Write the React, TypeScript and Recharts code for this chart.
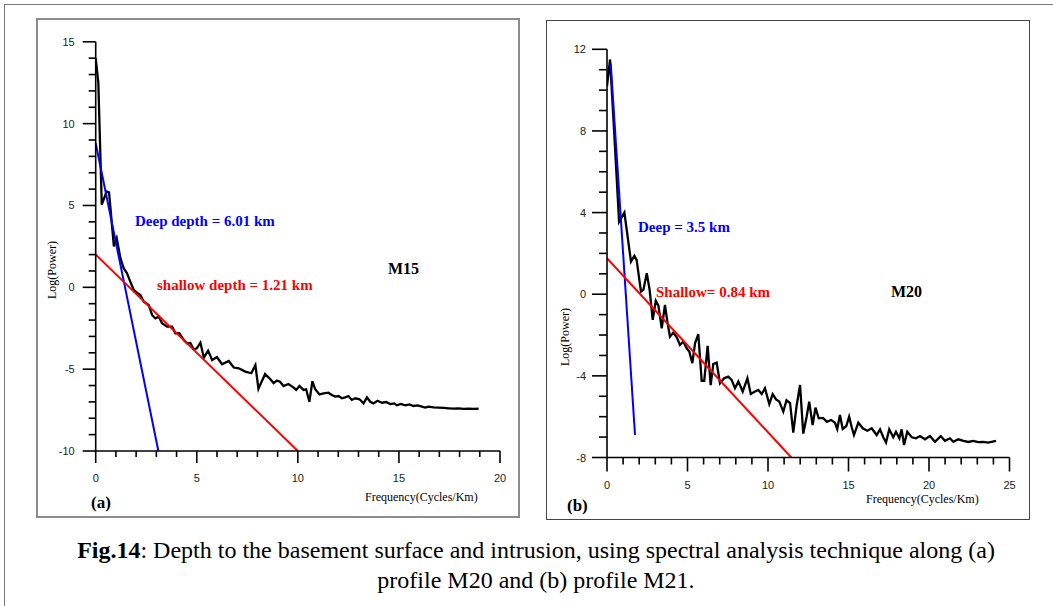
import React from 'react'
import { LineChart, Line, XAxis, YAxis } from 'recharts'

// panel (a) – profile spectrum
const leftFreq = [
  0, 0.13, 0.3, 0.54, 0.66, 0.9, 1.04, 1.22, 1.39, 1.55, 1.71, 1.88, 2.04, 2.21, 2.38, 2.62, 2.79, 2.95,
  3.12, 3.28, 3.53, 3.78, 3.94, 4.14, 4.36, 4.52, 4.68, 4.85, 5.0, 5.18, 5.35, 5.56, 5.76, 6.0, 6.25,
  6.58, 6.83, 7.08, 7.4, 7.7, 7.9, 8.05, 8.38, 8.63, 8.8, 8.96, 9.12, 9.29, 9.53, 9.78, 9.92, 10.08,
  10.28, 10.41, 10.57, 10.72, 10.86, 11.07, 11.27, 11.51, 11.68, 11.85, 12.01, 12.18, 12.34, 12.5,
  12.67, 12.84, 13.05, 13.25, 13.42, 13.58, 13.74, 13.94, 14.16, 14.37, 14.57, 14.77, 14.9, 15.1,
  15.31, 15.52, 15.72, 15.92, 16.14, 16.3, 16.47, 16.71, 16.96, 17.21, 17.46, 17.7, 17.95, 18.2,
  18.45, 18.69, 18.94,
]
const leftPower = [
  14.0, 12.5, 5.05, 5.85, 5.8, 2.5, 3.0, 1.8, 1.15, 0.85, 0.35, -0.15, -0.33, -0.47, -0.88, -1.08, -1.69, -1.9,
  -1.79, -2.2, -2.4, -2.4, -2.81, -2.8, -3.22, -3.42, -3.4, -3.8, -3.73, -3.38, -4.3, -3.87, -4.44, -4.26, -4.7,
  -4.5, -4.9, -4.95, -5.15, -5.25, -4.75, -6.2, -5.3, -5.6, -5.85, -5.7, -5.77, -6.03, -5.91, -6.11, -6.27, -6.03,
  -6.27, -6.23, -6.99, -5.74, -6.23, -6.54, -6.48, -6.44, -6.58, -6.68, -6.64, -6.78, -6.72, -6.64,
  -6.88, -6.78, -6.84, -7.09, -6.72, -6.99, -7.09, -6.93, -7.05, -7.01, -7.13, -7.09, -7.21, -7.13,
  -7.21, -7.15, -7.25, -7.21, -7.29, -7.35, -7.29, -7.33, -7.35, -7.37, -7.39, -7.41, -7.39, -7.43,
  -7.41, -7.43, -7.42,
]
const leftDeepFit = [
  { f: 0, p: 8.8 },
  { f: 3.1, p: -10 },
]
const leftShallowFit = [
  { f: 0, p: 2.0 },
  { f: 10.0, p: -10 },
]

// panel (b)
const rightFreq = [
  0, 0.19, 0.47, 0.75, 1.08, 1.49, 1.7, 1.84, 2.11, 2.26, 2.47, 2.65, 2.84, 3.03, 3.19, 3.4, 3.6, 3.75,
  3.91, 4.12, 4.33, 4.53, 4.74, 4.95, 5.11, 5.3, 5.47, 5.67, 5.88, 6.04, 6.25, 6.44, 6.6, 6.81, 7.02,
  7.27, 7.53, 7.74, 7.95, 8.16, 8.43, 8.72, 8.93, 9.19, 9.4, 9.61, 9.81, 10.08, 10.29, 10.5, 10.7,
  10.95, 11.15, 11.37, 11.57, 11.78, 11.99, 12.19, 12.4, 12.56, 12.77, 12.95, 13.15, 13.41, 13.66,
  13.92, 14.16, 14.3, 14.47, 14.64, 14.86, 15.04, 15.2, 15.34, 15.61, 15.88, 16.17, 16.44, 16.75,
  16.96, 17.16, 17.33, 17.53, 17.78, 17.95, 18.16, 18.3, 18.45, 18.65, 18.93, 19.19, 19.44, 19.75,
  20.06, 20.37, 20.73, 20.99, 21.3, 21.51, 21.82, 22.14, 22.44, 22.75, 23.06, 23.37, 23.68, 24.16,
]
const rightPower = [
  10.2, 11.5, 7.6, 3.55, 4.0, 1.6, 1.88, 1.68, 0.13, 0.21, 1.03, 0.2, -1.26, -0.32, -0.55, -1.67, -0.52, -1.34,
  -2.08, -1.88, -2.11, -2.49, -2.32, -2.65, -2.81, -3.38, -2.4, -1.95, -4.24, -4.24, -2.53, -4.45, -3.42, -3.35, -4.36,
  -4.12, -4.04, -4.2, -4.61, -4.28, -4.77, -4.12, -4.89, -4.77, -4.69, -4.89, -4.61, -5.38, -4.89, -5.15, -5.26,
  -5.75, -5.2, -5.34, -6.78, -5.45, -4.45, -6.83, -6.0, -5.26, -6.41, -5.56, -6.08, -6.06, -6.25,
  -6.16, -6.3, -6.6, -5.92, -6.6, -6.47, -6.0, -6.52, -6.9, -6.29, -6.57, -6.69, -6.57, -6.9,
  -6.62, -7.01, -7.27, -6.62, -7.01, -6.74, -7.06, -6.62, -7.39, -6.74, -7.01, -7.06, -6.95, -7.11,
  -6.95, -7.23, -6.95, -7.18, -7.06, -7.23, -7.11, -7.18, -7.24, -7.19, -7.25, -7.23, -7.27, -7.18,
]
const rightDeepFit = [
  { f: 0.23, p: 11.3 },
  { f: 1.74, p: -6.9 },
]
const rightShallowFit = [
  { f: 0, p: 1.76 },
  { f: 11.45, p: -8 },
]

const leftXLabels = [0, 5, 10, 15, 20]
const leftYLabels = [-10, -5, 0, 5, 10, 15]
const rightXLabels = [0, 5, 10, 15, 20, 25]
const rightYLabels = [-8, -4, 0, 4, 8, 12]

const range = (a: number, b: number) => Array.from({ length: b - a + 1 }, (_, i) => a + i)

const TICK_FONT = '"Liberation Sans", Arial, sans-serif'
const SERIF = '"Liberation Serif", "Times New Roman", serif'

function xTick(labels: number[], major: number, minor: number) {
  return (props: any) => {
    const { x, y, payload } = props
    const isMajor = labels.includes(payload.value)
    return (
      <g>
        <line x1={x} x2={x} y1={y} y2={y + (isMajor ? major : minor)} stroke="#000" strokeWidth={1.6} />
        {isMajor && (
          <text x={x} y={y + 31} textAnchor="middle" fontSize={11} fill="#222" fontFamily={TICK_FONT}>
            {payload.value}
          </text>
        )}
      </g>
    )
  }
}

function yTick(labels: number[], major: number, minor: number) {
  return (props: any) => {
    const { x, y, payload } = props
    const isMajor = labels.includes(payload.value)
    return (
      <g>
        <line x1={x - (isMajor ? major : minor)} x2={x} y1={y} y2={y} stroke="#000" strokeWidth={1.6} />
        {isMajor && (
          <text x={x - 21} y={y + 4} textAnchor="end" fontSize={11} fill="#222" fontFamily={TICK_FONT}>
            {payload.value}
          </text>
        )}
      </g>
    )
  }
}

interface PanelProps {
  left: number
  width: number
  height: number
  margin: { top: number; right: number; bottom: number; left: number }
  data: { f: number; p: number }[]
  deep: { f: number; p: number }[]
  shallow: { f: number; p: number }[]
  xMax: number
  yMin: number
  yMax: number
  xLabels: number[]
  yLabels: number[]
  majorLen: number
  minorLen: number
}

function Panel(props: PanelProps) {
  const { left, width, height, margin, data, deep, shallow, xMax, yMin, yMax, xLabels, yLabels } = props
  return (
    <div style={{ position: 'absolute', left, top: 0 }}>
      <LineChart width={width} height={height} margin={margin}>
        <XAxis
          type="number"
          dataKey="f"
          domain={[0, xMax]}
          ticks={range(0, xMax)}
          interval={0}
          allowDataOverflow
          height={30}
          tickSize={0}
          tickMargin={0}
          tickLine={false}
          axisLine={{ stroke: '#000', strokeWidth: 1.6 }}
          tick={xTick(xLabels, props.majorLen, props.minorLen - 1)}
        />
        <YAxis
          type="number"
          dataKey="p"
          domain={[yMin, yMax]}
          ticks={range(yMin, yMax)}
          interval={0}
          allowDataOverflow
          width={40}
          tickSize={0}
          tickMargin={0}
          tickLine={false}
          axisLine={{ stroke: '#000', strokeWidth: 1.6 }}
          tick={yTick(yLabels, props.majorLen + 1, props.minorLen)}
        />
        <Line data={data} dataKey="p" type="linear" stroke="#000" strokeWidth={2.3} dot={false} isAnimationActive={false} />
        <Line data={deep} dataKey="p" type="linear" stroke="#0000ff" strokeWidth={2} dot={false} isAnimationActive={false} />
        <Line data={shallow} dataKey="p" type="linear" stroke="#ff0000" strokeWidth={2} dot={false} isAnimationActive={false} />
      </LineChart>
    </div>
  )
}

const abs = (left: number, top: number, extra: React.CSSProperties = {}): React.CSSProperties => ({
  position: 'absolute',
  left,
  top,
  whiteSpace: 'nowrap',
  ...extra,
})

export default function App() {
  const leftData = leftFreq.map((f, i) => ({ f, p: leftPower[i] }))
  const rightData = rightFreq.map((f, i) => ({ f, p: rightPower[i] }))
  const bold = { fontFamily: SERIF, fontWeight: 700, fontSize: 15 }

  return (
    <div style={{ position: 'absolute', left: 0, top: 0, width: 1053, height: 606, background: '#fff', overflow: 'hidden' }}>
      <div style={{ position: 'absolute', left: 4, top: 4, width: 1060, height: 700, border: '1px solid #777' }} />
      <div style={{ position: 'absolute', left: 36, top: 18, width: 484, height: 500, border: '2px solid #8c8c8c', boxSizing: 'border-box' }} />
      <div style={{ position: 'absolute', left: 546, top: 20, width: 484, height: 500, border: '1px solid #444', boxSizing: 'border-box' }} />

      <Panel
        left={0}
        width={520}
        height={500}
        margin={{ top: 41.8, right: 20, bottom: 19, left: 55.7 }}
        data={leftData}
        deep={leftDeepFit}
        shallow={leftShallowFit}
        xMax={20}
        yMin={-10}
        yMax={15}
        xLabels={leftXLabels}
        yLabels={leftYLabels}
        majorLen={12}
        minorLen={7}
      />
      <Panel
        left={540}
        width={500}
        height={500}
        margin={{ top: 49.3, right: 30.5, bottom: 12.5, left: 27 }}
        data={rightData}
        deep={rightDeepFit}
        shallow={rightShallowFit}
        xMax={25}
        yMin={-8}
        yMax={12}
        xLabels={rightXLabels}
        yLabels={rightYLabels}
        majorLen={14}
        minorLen={8}
      />

      {/* panel (a) texts */}
      <div style={abs(135, 213, { ...bold, color: '#0000ff' })}>Deep depth = 6.01 km</div>
      <div style={abs(157, 277, { ...bold, color: '#ff0000' })}>shallow depth = 1.21 km</div>
      <div style={abs(388, 260, { ...bold, fontSize: 16, color: '#000' })}>M15</div>
      <div style={abs(365, 490, { fontFamily: SERIF, fontSize: 12 })}>Frequency(Cycles/Km)</div>
      <div style={abs(91, 493, { fontFamily: SERIF, fontWeight: 700, fontSize: 17 })}>(a)</div>
      <div style={abs(52, 270, { fontFamily: SERIF, fontSize: 12, transform: 'translate(-50%, -50%) rotate(-90deg)' })}>
        Log(Power)
      </div>

      {/* panel (b) texts */}
      <div style={abs(638, 219, { ...bold, color: '#0000ff' })}>Deep = 3.5 km</div>
      <div style={abs(656, 284, { ...bold, color: '#ff0000' })}>Shallow= 0.84 km</div>
      <div style={abs(891, 283, { ...bold, fontSize: 16, color: '#000' })}>M20</div>
      <div style={abs(866, 492, { fontFamily: SERIF, fontSize: 12 })}>Frequency(Cycles/Km)</div>
      <div style={abs(567, 496, { fontFamily: SERIF, fontWeight: 700, fontSize: 17 })}>(b)</div>
      <div style={abs(565, 337, { fontFamily: SERIF, fontSize: 12, transform: 'translate(-50%, -50%) rotate(-90deg)' })}>
        Log(Power)
      </div>

      {/* caption */}
      <div
        style={{
          position: 'absolute',
          left: 0,
          top: 535,
          width: 1072,
          textAlign: 'center',
          fontFamily: SERIF,
          fontSize: 24,
          lineHeight: '30px',
          color: '#000',
        }}
      >
        <div>
          <b>Fig.14</b>: Depth to the basement surface and intrusion, using spectral analysis technique along (a)
        </div>
        <div>profile M20 and (b) profile M21.</div>
      </div>
    </div>
  )
}
